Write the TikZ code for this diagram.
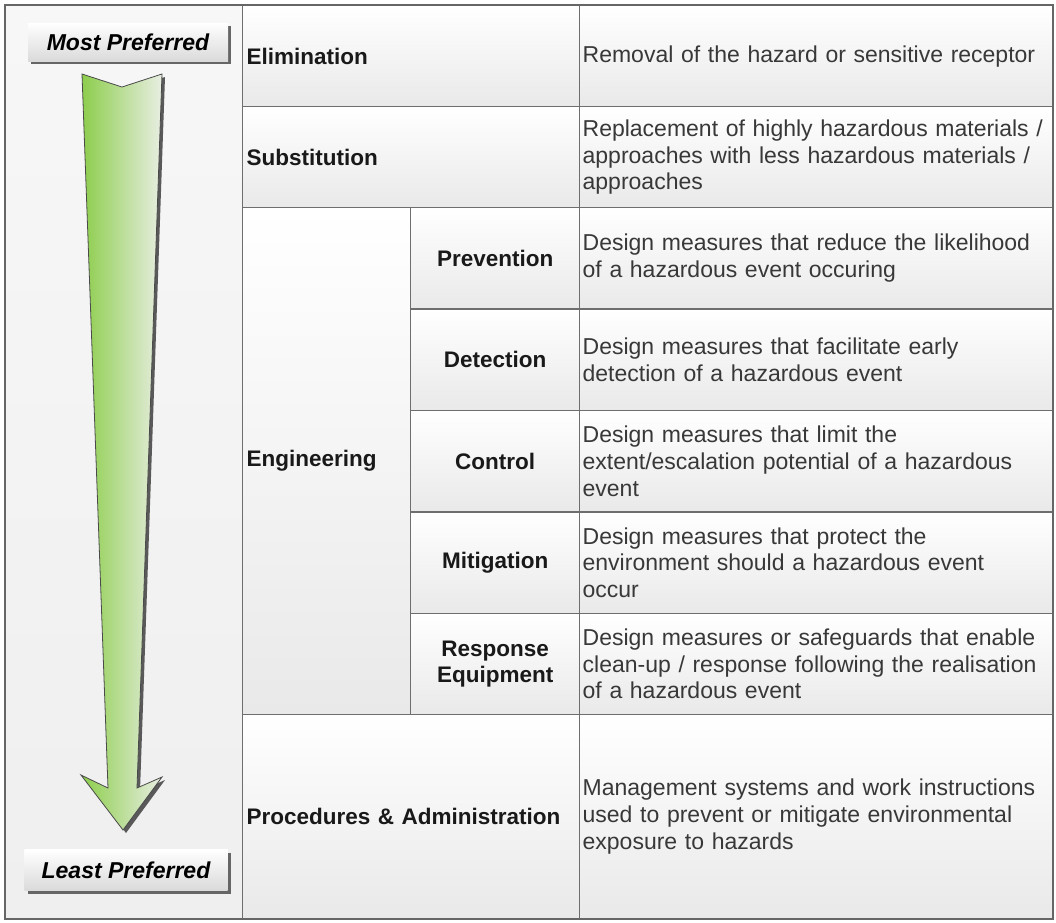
\documentclass[tikz,border=0pt]{standalone}
\usepackage{fontspec}
\setmainfont{Liberation Sans}
\usetikzlibrary{shadows}

\definecolor{linegray}{HTML}{6E6E6E}
\definecolor{cellgray}{HTML}{E9E9E9}
\definecolor{panelgray}{HTML}{EFEFEF}
\definecolor{taggray}{HTML}{DADADA}
\definecolor{textgray}{HTML}{383838}
\definecolor{arrowgreen}{HTML}{8CCD4B}
\definecolor{arrowpale}{HTML}{E8EEE2}
\definecolor{arrowedge}{HTML}{4A4A4A}

\begin{document}
\begin{tikzpicture}[x=1pt, y=-1pt,
	cell/.style={draw=linegray, line width=1.3pt, anchor=north west, inner xsep=4pt, inner ysep=0pt,
		top color=white, bottom color=cellgray, text=black!90,
		font=\bfseries\fontsize{22.5}{26.7}\selectfont},
	lbl/.style={cell, align=left, text width=329pt},
	sub/.style={cell, align=center, text width=161pt, minimum height=101.4pt},
	desc/.style={cell, inner xsep=3pt, align=left, text width=467pt, text=textgray,
		font=\fontsize{23}{26.7}\selectfont},
	tag/.style={top color=white, bottom color=taggray, minimum width=200pt, minimum height=38pt,
		inner sep=0pt, font=\bfseries\itshape\fontsize{23}{26}\selectfont,
		drop shadow={shadow xshift=3pt, shadow yshift=-3pt, fill=black!60, opacity=1}}]
	\useasboundingbox (0,0) rectangle (1056,922);

	% left panel with the arrow
	\node[draw=linegray, line width=1.3pt, anchor=north west, inner sep=0pt, minimum width=237pt,
		minimum height=913pt, top color=panelgray!50, bottom color=panelgray] (side) at (5,5) {};
	\fill[black!65, shift={(3,3)}] (82,74) -- (122,87) -- (162,74) -- (137,788) -- (162,777)
		-- (123,830) -- (81,775) -- (108,788) -- cycle;
	\shade[left color=arrowgreen, right color=arrowpale, draw=arrowedge, line width=0.8pt]
		(82,74) -- (122,87) -- (162,74) -- (137,788) -- (162,777)
		-- (123,830) -- (81,775) -- (108,788) -- cycle;
	\node[tag] (most) at (128,42) {Most Preferred};
	\node[tag, minimum width=203pt, minimum height=41pt] (least) at (126,870) {Least Preferred};

	% hierarchy
	\node[lbl, minimum height=101pt] (elim) at (242,5) {Elimination};
	\node[desc, minimum height=101pt] (elimTxt) at (579,5) {Removal of the hazard or sensitive receptor};
	\node[lbl, minimum height=101pt] (subst) at (242,106) {Substitution};
	\node[desc, minimum height=101pt] (substTxt) at (579,106)
		{Replacement of highly hazardous materials /\\approaches with less hazardous materials /\\approaches};
	\node[cell, align=left, text width=160pt, minimum height=507pt] (eng) at (242,207) {Engineering};
	\foreach \n/\t [count=\i from 0] in {prev/Prevention, det/Detection, ctrl/Control,
		mit/Mitigation, resp/{Response\\Equipment}}
		\node[sub] (\n) at (410,207+101.4*\i) {\t};
	\node[desc, minimum height=101.4pt] (prevTxt) at (579,207)
		{Design measures that reduce the likelihood\\of a hazardous event occuring};
	\node[desc, minimum height=101.4pt] (detTxt) at (579,308.4)
		{Design measures that facilitate early\\detection of a hazardous event};
	\node[desc, minimum height=101.4pt] (ctrlTxt) at (579,409.8)
		{Design measures that limit the\\extent/escalation potential of a hazardous\\event};
	\node[desc, minimum height=101.4pt] (mitTxt) at (579,511.2)
		{Design measures that protect the\\environment should a hazardous event\\occur};
	\node[desc, minimum height=101.4pt] (respTxt) at (579,612.6)
		{Design measures or safeguards that enable\\clean-up / response following the realisation\\of a hazardous event};
	\node[lbl, minimum height=204pt] (proc) at (242,714) {Procedures \& Administration};
	\node[desc, minimum height=204pt] (procTxt) at (579,714)
		{Management systems and work instructions\\used to prevent or mitigate environmental\\exposure to hazards};

	% outer frame
	\draw[black!60, line width=2pt] (side.north west) rectangle (procTxt.south east);
\end{tikzpicture}
\end{document}
